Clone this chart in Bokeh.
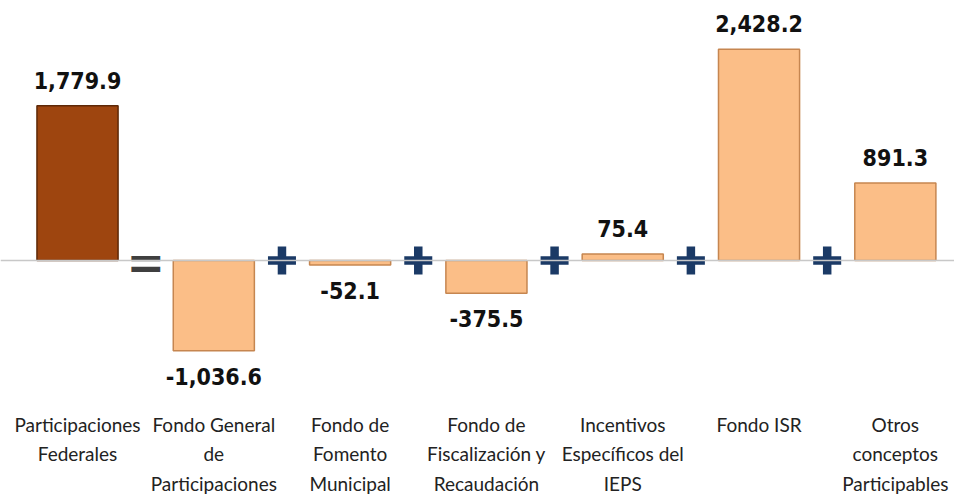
from bokeh.plotting import figure
from bokeh.models import Range1d, Span, ColumnDataSource
from bokeh.core.properties import value
from bokeh.embed import file_html
from bokeh.resources import INLINE

categories = ["Participaciones\nFederales", "Fondo General\nde\nParticipaciones",
              "Fondo de\nFomento\nMunicipal", "Fondo de\nFiscalización y\nRecaudación",
              "Incentivos\nEspecíficos del\nIEPS", "Fondo ISR", "Otros\nconceptos\nParticipables"]
values = [1779.9, -1036.6, -52.1, -375.5, 75.4, 2428.2, 891.3]
value_labels = ["1,779.9", "-1,036.6", "-52.1", "-375.5", "75.4", "2,428.2", "891.3"]
operators = ["=", "+", "+", "+", "+", "+"]

xs = list(range(len(values)))
fills = ["#9E450F"] + ["#FBBE87"] * (len(values) - 1)
edges = ["#5E2807"] + ["#C68650"] * (len(values) - 1)

NUM_FONT = value("'Liberation Sans Narrow', 'DejaVu Sans Condensed', 'Roboto Condensed', 'Liberation Sans', sans-serif")

p = figure(width=954, height=498, output_backend="svg", toolbar_location=None,
           x_range=Range1d(-0.565, 6.434), y_range=Range1d(-2735, 2988),
           min_border=0, outline_line_color=None)
p.xaxis.visible = False
p.yaxis.visible = False
p.xgrid.visible = False
p.ygrid.visible = False

p.add_layout(Span(location=0, dimension="width", line_color="#C8C8C8", line_width=1.5))

src = ColumnDataSource(dict(x=xs, top=values, fill=fills, edge=edges, lab=value_labels, cat=categories))
p.vbar(x="x", top="top", bottom=0, width=0.595, fill_color="fill", line_color="edge",
       line_width=1.5, source=src)

pos = ColumnDataSource(dict(x=[x for x, v in zip(xs, values) if v >= 0],
                            y=[v for v in values if v >= 0],
                            t=[l for l, v in zip(value_labels, values) if v >= 0]))
neg = ColumnDataSource(dict(x=[x for x, v in zip(xs, values) if v < 0],
                            y=[v for v in values if v < 0],
                            t=[l for l, v in zip(value_labels, values) if v < 0]))
p.text(x="x", y="y", text="t", source=pos, text_align="center", text_baseline="bottom",
       y_offset=-17, text_font=NUM_FONT, text_font_style="bold",
       text_font_size="23px", text_color="#111111")
p.text(x="x", y="y", text="t", source=neg, text_align="center", text_baseline="top",
       y_offset=17, text_font=NUM_FONT, text_font_style="bold",
       text_font_size="23px", text_color="#111111")

p.text(x="x", y=0, text="cat", source=src, text_align="center", text_baseline="top",
       y_offset=152, text_font=value("Lato"), text_font_size="19px", text_color="#222222",
       text_line_height=1.3)

op_x = [i + 0.5 for i in range(len(operators))]
eq_x = [x for x, o in zip(op_x, operators) if o == "="]
plus_x = [x for x, o in zip(op_x, operators) if o == "+"]
p.text(x=eq_x, y=[0] * len(eq_x), text=["="] * len(eq_x), text_align="center",
       text_baseline="middle", y_offset=2, text_font=value("DejaVu Sans"), text_font_style="bold",
       text_font_size="46px", text_color="#3F3F3F")
p.scatter(x=plus_x, y=[0] * len(plus_x), marker="cross", size=28, line_width=8.5,
          line_color="#1B3A66")

open("out.html", "w").write(file_html(p, INLINE))
